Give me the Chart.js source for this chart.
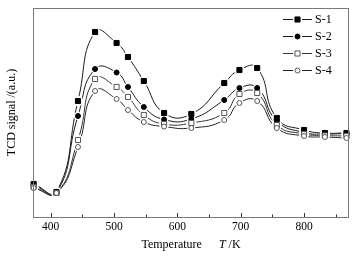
<!DOCTYPE html>
<html><head><meta charset="utf-8">
<script src="https://cdn.jsdelivr.net/npm/chart.js@4/dist/chart.umd.min.js"></script>
<style>html,body{margin:0;padding:0;background:#fff;}#wrap{width:362px;height:259px;}</style>
</head><body><div id="wrap"><canvas id="c" width="362" height="259"></canvas></div>
<script>
// ---- data ----
const temperatures = [373, 409, 443, 470, 504, 522, 547, 579, 622, 674, 698, 726, 757, 800, 833, 867];
const s1 = [33, 25, 116, 185, 174, 160, 136, 104, 103, 134, 147, 149, 99, 87, 84, 84];
const s2 = [32, 24.5, 101, 148, 144.5, 130, 110, 97.5, 98, 117, 129, 129, 96, 84.5, 83, 83.5];
const s3 = [30, 24, 77, 138, 130, 120, 102, 93, 94, 104, 123, 124, 92, 83, 81.5, 81];
const s4 = [29, 24, 70, 126, 118, 107, 95, 90.5, 89, 97, 114, 116, 89, 81, 80, 79];
const seriesLabels = ['S-1', 'S-2', 'S-3', 'S-4'];
const xTickValues = [400, 500, 600, 700, 800];
const xMinorTickValues = [450, 550, 650, 750, 850];
const xTitleWord = 'Temperature';
const xTitleSymbol = 'T';
const xTitleUnit = ' /K';
const yTitle = 'TCD signal /(a.u.)';

const SERIF = "'Liberation Serif', 'Times New Roman', serif";
const seriesData = [s1, s2, s3, s4];
const styles = [
  {shape: 'rect', fill: '#000', stroke: '#000', r: 3.6, line: '#1a1a1a'},
  {shape: 'circle', fill: '#000', stroke: '#000', r: 2.5, line: '#1a1a1a'},
  {shape: 'rect', fill: '#fff', stroke: '#555', r: 3.6, line: '#333'},
  {shape: 'circle', fill: '#fff', stroke: '#555', r: 2.5, line: '#222'}
];

const datasets = seriesData.map((arr, i) => ({
  label: seriesLabels[i],
  data: temperatures.map((t, j) => ({x: t, y: arr[j]})),
  borderColor: styles[i].line,
  borderWidth: 1,
  tension: 0.5,
  pointStyle: styles[i].shape,
  pointRadius: styles[i].r,
  pointBackgroundColor: styles[i].fill,
  pointBorderColor: styles[i].stroke,
  pointBorderWidth: 1,
  clip: false
}));

const decor = {
  id: 'decor',
  afterDatasetsDraw(chart) {
    // Origin-style: white halo around each marker so lines stop short of it
    const ctx = chart.ctx;
    ctx.save();
    chart.data.datasets.forEach((ds, i) => {
      const meta = chart.getDatasetMeta(i);
      meta.data.forEach(pt => {
        ctx.fillStyle = '#fff';
        ctx.beginPath(); ctx.arc(pt.x, pt.y, ds.pointRadius + 1.6, 0, Math.PI * 2); ctx.fill();
      });
    });
    chart.data.datasets.forEach((ds, i) => {
      const meta = chart.getDatasetMeta(i);
      meta.data.forEach(pt => {
        ctx.fillStyle = ds.pointBackgroundColor; ctx.strokeStyle = ds.pointBorderColor; ctx.lineWidth = 1;
        Chart.helpers.drawPoint(ctx, {pointStyle: ds.pointStyle, radius: ds.pointRadius, rotation: 0, borderWidth: 1}, pt.x, pt.y);
      });
    });
    ctx.restore();
  },
  afterDraw(chart) {
    const ctx = chart.ctx;
    const a = chart.chartArea;
    const xs = chart.scales.x;
    ctx.save();
    // frame
    ctx.strokeStyle = '#7a7a7a';
    ctx.lineWidth = 1;
    ctx.strokeRect(Math.round(a.left) + 0.5, Math.round(a.top) + 0.5, Math.round(a.right - a.left) - 1, Math.round(a.bottom - a.top));
    // inward ticks
    ctx.strokeStyle = '#333';
    const yb = Math.round(a.bottom);
    xTickValues.forEach(v => {
      const px = Math.round(xs.getPixelForValue(v)) + 0.5;
      ctx.beginPath(); ctx.moveTo(px, yb); ctx.lineTo(px, yb - 4); ctx.stroke();
    });
    xMinorTickValues.forEach(v => {
      const px = Math.round(xs.getPixelForValue(v)) + 0.5;
      if (px > a.right) return;
      ctx.beginPath(); ctx.moveTo(px, yb); ctx.lineTo(px, yb - 2.5); ctx.stroke();
    });
    // x title with italic symbol
    ctx.fillStyle = '#000';
    ctx.textBaseline = 'middle';
    ctx.textAlign = 'left';
    const fN = '12px ' + SERIF, fI = 'italic 12px ' + SERIF;
    ctx.font = fN; const w1 = ctx.measureText(xTitleWord).width; const w3 = ctx.measureText(xTitleUnit).width;
    ctx.font = fI; const w2 = ctx.measureText(xTitleSymbol).width;
    const gap = 17;
    const total = w1 + gap + w2 + w3;
    let x0 = (a.left + a.right) / 2 - total / 2;
    const ty = 245;
    ctx.font = fN; ctx.fillText(xTitleWord, x0, ty);
    ctx.font = fI; ctx.fillText(xTitleSymbol, x0 + w1 + gap, ty);
    ctx.font = fN; ctx.fillText(xTitleUnit, x0 + w1 + gap + w2, ty);
    // legend
    chart.data.datasets.forEach((ds, i) => {
      const ly = 19 + i * 17;
      ctx.strokeStyle = ds.borderColor; ctx.lineWidth = 1;
      ctx.beginPath(); ctx.moveTo(283, ly + 0.5); ctx.lineTo(293, ly + 0.5);
      ctx.moveTo(302, ly + 0.5); ctx.lineTo(312, ly + 0.5); ctx.stroke();
      ctx.fillStyle = ds.pointBackgroundColor; ctx.strokeStyle = ds.pointBorderColor;
      Chart.helpers.drawPoint(ctx, {pointStyle: ds.pointStyle, radius: ds.pointRadius, rotation: 0, borderWidth: 1}, 297.5, ly + 0.5);
      ctx.fillStyle = '#000';
      ctx.font = '12px ' + SERIF;
      ctx.fillText(ds.label, 315, ly + 1);
    });
    ctx.restore();
  }
};

new Chart(document.getElementById('c'), {
  type: 'line',
  data: {datasets},
  options: {
    responsive: false,
    animation: false,
    devicePixelRatio: 1,
    layout: {padding: {top: 8, right: 13, left: 0, bottom: 0}},
    plugins: {legend: {display: false}, tooltip: {enabled: false}},
    scales: {
      x: {
        type: 'linear', min: 372, max: 871,
        afterBuildTicks: s => { s.ticks = xTickValues.map(v => ({value: v})); },
        afterFit: s => { s.height = 42; },
        grid: {display: false, drawTicks: false},
        border: {display: false},
        ticks: {color: '#000', font: {family: SERIF, size: 11.5}, padding: 3, maxRotation: 0}
      },
      y: {
        min: 0, max: 209,
        afterFit: s => { s.width = 33; },
        grid: {display: false, drawTicks: false},
        border: {display: false},
        ticks: {display: false},
        title: {display: true, text: yTitle, color: '#000', font: {family: SERIF, size: 12}, padding: {top: 5, bottom: 0}}
      }
    }
  },
  plugins: [decor]
});
</script>
</body></html>
